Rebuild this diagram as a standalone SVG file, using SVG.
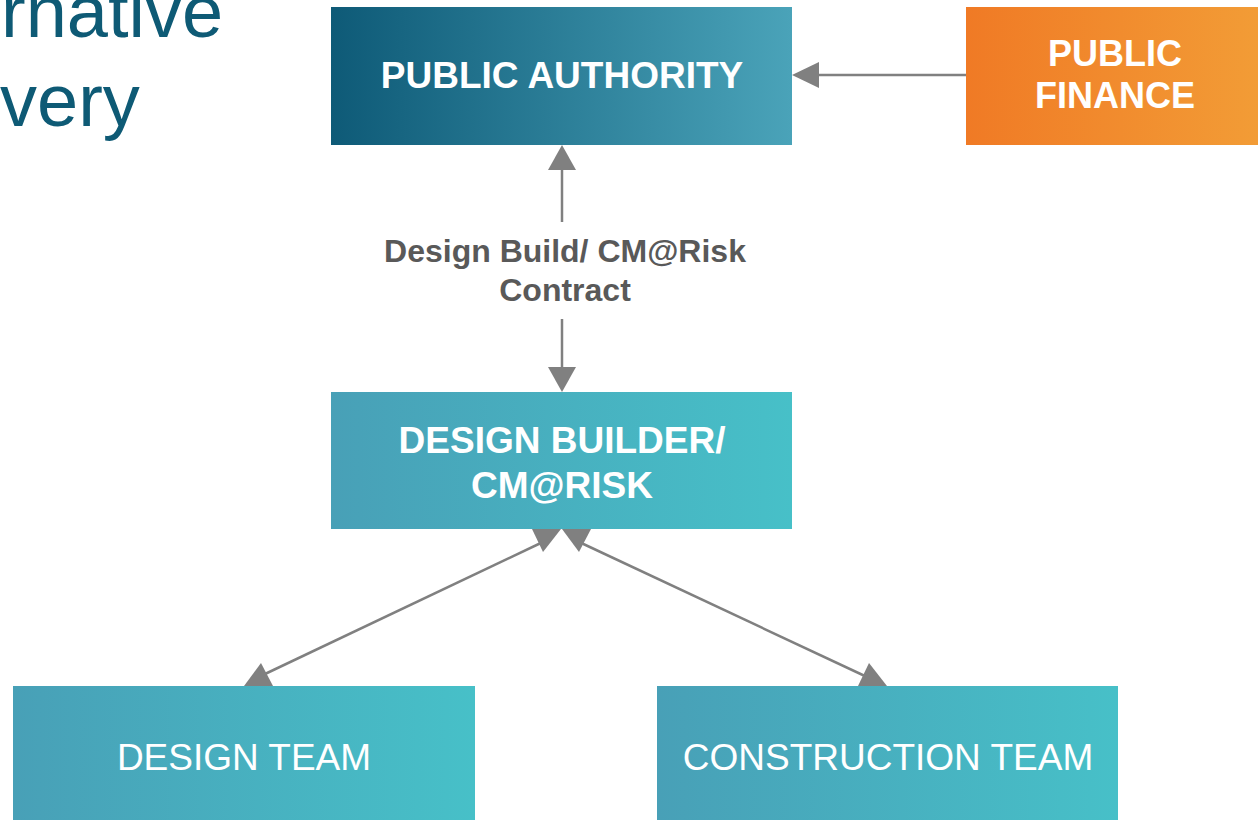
<svg xmlns="http://www.w3.org/2000/svg" width="1258" height="820" viewBox="0 0 1258 820">
<defs>
<linearGradient id="gAuth" x1="0" y1="0" x2="1" y2="0"><stop offset="0" stop-color="#0e5a77"/><stop offset="1" stop-color="#4aa3b9"/></linearGradient>
<linearGradient id="gFin" x1="0" y1="0" x2="1" y2="0"><stop offset="0" stop-color="#f07a25"/><stop offset="1" stop-color="#f29c36"/></linearGradient>
<linearGradient id="gTeal" x1="0" y1="0" x2="1" y2="0"><stop offset="0" stop-color="#48a0b7"/><stop offset="1" stop-color="#47c0c8"/></linearGradient>
</defs>
<style>
.t{font-family:"Liberation Sans",Arial,sans-serif;fill:#fff;text-anchor:middle}
.b{font-weight:bold}
.ln{stroke:#808080;stroke-width:2.5;fill:none}
.ah{fill:#808080}
.lbl{font-family:"Liberation Sans",Arial,sans-serif;font-weight:bold;fill:#595959;font-size:32px;text-anchor:middle}
.title{font-family:"Liberation Sans",Arial,sans-serif;fill:#0e5a75;font-size:74px}
</style>
<rect width="1258" height="820" fill="#fff"/>
<g id="title">
<text class="title" x="1" y="37">rnative</text>
<text class="title" x="0" y="126">very</text>
</g>
<g id="connectors">
<line class="ln" x1="562" y1="170" x2="562" y2="222"/>
<polygon class="ah" points="562,145 548,170 576,170"/>
<line class="ln" x1="562" y1="319" x2="562" y2="367"/>
<polygon class="ah" points="562,392 548,367 576,367"/>
<line class="ln" x1="819" y1="75" x2="966" y2="75"/>
<polygon class="ah" points="792,75 819,62 819,88"/>
<line class="ln" x1="545" y1="541" x2="265" y2="674"/>
<polygon class="ah" points="532,529 561,529 543,552"/>
<polygon class="ah" points="261,663 244,686 273,686"/>
<line class="ln" x1="577" y1="541" x2="867" y2="677"/>
<polygon class="ah" points="562,529 591,529 579,552"/>
<polygon class="ah" points="869,663 858,686 887,686"/>
<text class="lbl" x="565" y="262">Design Build/ CM@Risk</text>
<text class="lbl" x="565" y="301">Contract</text>
</g>
<g id="public-authority">
<rect x="331" y="7" width="461" height="138" fill="url(#gAuth)"/>
<text class="t b" x="562" y="88" font-size="37">PUBLIC AUTHORITY</text>
</g>
<g id="public-finance">
<rect x="966" y="7" width="292" height="138" fill="url(#gFin)"/>
<text class="t b" x="1115" y="66" font-size="36">PUBLIC</text>
<text class="t b" x="1115" y="108" font-size="36">FINANCE</text>
</g>
<g id="design-builder">
<rect x="331" y="392" width="461" height="137" fill="url(#gTeal)"/>
<text class="t b" x="562" y="453" font-size="37">DESIGN BUILDER/</text>
<text class="t b" x="562" y="498" font-size="37">CM@RISK</text>
</g>
<g id="design-team">
<rect x="13" y="686" width="462" height="134" fill="url(#gTeal)"/>
<text class="t" x="244" y="770" font-size="37">DESIGN TEAM</text>
</g>
<g id="construction-team">
<rect x="657" y="686" width="461" height="134" fill="url(#gTeal)"/>
<text class="t" x="888" y="770" font-size="37">CONSTRUCTION TEAM</text>
</g>
</svg>
